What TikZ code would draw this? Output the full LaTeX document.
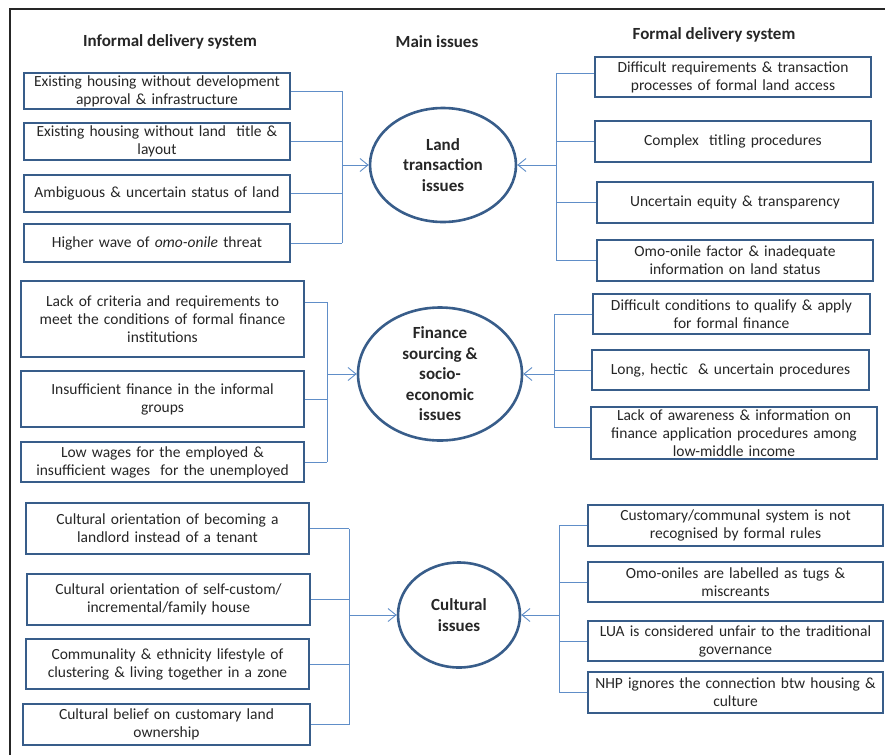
\documentclass[tikz,border=0pt]{standalone}
\usepackage{fontspec}
\setmainfont{Carlito}
\usepackage{xcolor}
\usepackage{tikz}
\usetikzlibrary{shapes.geometric,arrows.meta}

\begin{document}
\begin{tikzpicture}[x=1pt,y=-1pt,
        box/.style={draw=boxblue, line width=2pt, fill=white, align=center, inner sep=2pt,
                    text=textgray, font=\fontsize{15.5}{18}\selectfont},
        issue/.style={ellipse, draw=boxblue, line width=2.6pt, align=center, inner sep=0pt,
                      text=textgray, font=\bfseries\fontsize{17}{20.5}\selectfont},
        head/.style={text=textgray, font=\bfseries\fontsize{17}{20}\selectfont},
        link/.style={draw=linkblue, line width=0.9pt},
        arr/.style={link, -{Straight Barb[length=8pt,width=13pt]}}]
        % Define colors
        \definecolor{boxblue}{RGB}{56,93,138}
        \definecolor{linkblue}{RGB}{96,142,200}
        \definecolor{textgray}{RGB}{38,38,38}

        \useasboundingbox (0,0) rectangle (885,755);

        % Frame (cut at right and bottom)
        \draw[line width=2.2pt, black!85] (10,755) -- (10,9) -- (885,9);

        % Column headings
        \node[head] (hinf) at (170,42) {Informal delivery system};
        \node[head] (hmain) at (437,42) {Main issues};
        \node[head] (hform) at (714,35) {Formal delivery system};

        % Main issues
        \node[issue, minimum width=146, minimum height=114] (land) at (443,165) {Land\\transaction\\issues};
        \node[issue, minimum width=164, minimum height=115] (fin) at (440,374) {Finance\\sourcing \&\\socio-\\economic\\issues};
        \node[issue, minimum width=122, minimum height=105] (cult) at (459,615) {Cultural\\issues};

        % Informal side
        \node[box, text width=262, minimum height=36] (l1) at (157,91) {Existing housing without development\\approval \& infrastructure};
        \node[box, text width=262, minimum height=37] (l2) at (157,141.5) {Existing housing without land~ title \&\\layout};
        \node[box, text width=262, minimum height=37] (l3) at (157,193.5) {Ambiguous \& uncertain status of land};
        \node[box, text width=262, minimum height=38] (l4) at (157,243) {Higher wave of \textit{omo-onile} threat};

        \node[box, text width=279, minimum height=76] (lf1) at (162.5,319) {Lack of criteria and requirements to\\meet the conditions of formal finance\\institutions};
        \node[box, text width=279, minimum height=56] (lf2) at (162.5,399) {Insufficient finance in the informal\\groups};
        \node[box, text width=279, minimum height=40] (lf3) at (162.5,462) {Low wages for the employed \&\\insufficient wages~ for the unemployed};

        \node[box, text width=279, minimum height=51] (lc1) at (167.5,528.5) {Cultural orientation of becoming a\\landlord instead of a tenant};
        \node[box, text width=279, minimum height=51] (lc2) at (168.5,599.5) {Cultural orientation of self-custom/\\incremental/family house};
        \node[box, text width=279, minimum height=50] (lc3) at (167.5,664) {Communality \& ethnicity lifestyle of\\clustering \& living together in a zone};
        \node[box, text width=283, minimum height=41] (lc4) at (166.5,724.5) {Cultural belief on customary land\\ownership};

        % Formal side
        \node[box, text width=272, minimum height=40] (r1) at (733,77) {Difficult requirements \& transaction\\processes of formal land access};
        \node[box, text width=272, minimum height=41] (r2) at (733,141.5) {Complex~ titling procedures};
        \node[box, text width=272, minimum height=41] (r3) at (735,202.5) {Uncertain equity \& transparency};
        \node[box, text width=272, minimum height=41] (r4) at (735,260.5) {Omo-onile factor \& inadequate\\information on land status};

        \node[box, text width=273, minimum height=40] (rf1) at (731.5,314) {Difficult conditions to qualify \& apply\\for formal finance};
        \node[box, text width=273, minimum height=40] (rf2) at (730.5,370) {Long, hectic~ \& uncertain procedures};
        \node[box, text width=282, minimum height=52] (rf3) at (734,433) {Lack of awareness \& information on\\finance application procedures among\\low-middle income};

        \node[box, text width=291, minimum height=41] (rc1) at (735.5,525.5) {Customary/communal system is not\\recognised by formal rules};
        \node[box, text width=291, minimum height=40] (rc2) at (735.5,582) {Omo-oniles are labelled as tugs \&\\miscreants};
        \node[box, text width=291, minimum height=40] (rc3) at (735.5,641) {LUA is considered unfair to the traditional\\governance};
        \node[box, text width=291, minimum height=41] (rc4) at (735.5,692.5) {NHP ignores the connection btw housing \&\\culture};

        % Bus lines
        \coordinate (busl) at (342,0);
        \coordinate (busr) at (556,0);
        \coordinate (busfl) at (327,0);
        \coordinate (busfr) at (554,0);
        \coordinate (buscl) at (349,0);
        \coordinate (buscr) at (559,0);
        \coordinate (lf1e) at ([yshift=17pt]lf1.east);
        \coordinate (rf3w) at ([yshift=6pt]rf3.west);
        \coordinate (r1w) at ([yshift=4pt]r1.west);

        % Land transaction connectors
        \foreach \b in {l1,l2,l3,l4}
            \draw[link] (\b.east) -- (\b.east -| busl);
        \draw[link] (l1.east -| busl) -- (l4.east -| busl);
        \draw[arr] (land.west -| busl) -- (land.west);
        \draw[link] (r1w) -- (r1w -| busr);
        \foreach \b in {r2,r3,r4}
            \draw[link] (\b.west) -- (\b.west -| busr);
        \draw[link] (r1w -| busr) -- (r4.west -| busr);
        \draw[arr] (land.east -| busr) -- (land.east);

        % Finance connectors
        \draw[link] (lf1e) -- (lf1e -| busfl);
        \foreach \b in {lf2,lf3}
            \draw[link] (\b.east) -- (\b.east -| busfl);
        \draw[link] (lf1e -| busfl) -- (lf3.east -| busfl);
        \draw[arr] (fin.west -| busfl) -- (fin.west);
        \draw[link] (rf3w) -- (rf3w -| busfr);
        \foreach \b in {rf1,rf2}
            \draw[link] (\b.west) -- (\b.west -| busfr);
        \draw[link] (rf1.west -| busfr) -- (rf3w -| busfr);
        \draw[arr] (fin.east -| busfr) -- (fin.east);

        % Cultural connectors
        \foreach \b in {lc1,lc2,lc3,lc4}
            \draw[link] (\b.east) -- (\b.east -| buscl);
        \draw[link] (lc1.east -| buscl) -- (lc4.east -| buscl);
        \draw[arr] (cult.west -| buscl) -- (cult.west);
        \foreach \b in {rc1,rc2,rc3,rc4}
            \draw[link] (\b.west) -- (\b.west -| buscr);
        \draw[link] (rc1.west -| buscr) -- (rc4.west -| buscr);
        \draw[arr] (cult.east -| buscr) -- (cult.east);

    \end{tikzpicture}
\end{document}
